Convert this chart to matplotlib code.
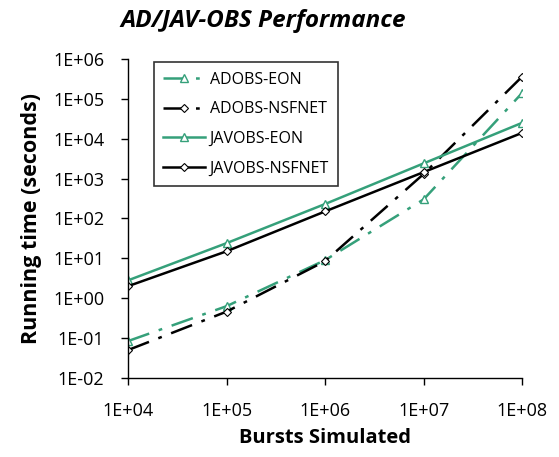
import numpy as np
import matplotlib
matplotlib.use("Agg")
import matplotlib.pyplot as plt
from matplotlib.ticker import FixedLocator, NullLocator

plt.rcParams['font.family'] = ['Open Sans', 'DejaVu Sans']

bursts = [1e4, 1e5, 1e6, 1e7, 1e8]
tick_labels_x = ["1E+04", "1E+05", "1E+06", "1E+07", "1E+08"]
y_ticks = [1e-2, 1e-1, 1e0, 1e1, 1e2, 1e3, 1e4, 1e5, 1e6]
tick_labels_y = ["1E-02", "1E-01", "1E+00", "1E+01", "1E+02", "1E+03", "1E+04", "1E+05", "1E+06"]

adobs_eon = [0.084, 0.63, 9.0, 300, 140000]
adobs_nsfnet = [0.05, 0.46, 8.5, 1300, 360000]
javobs_eon = [2.8, 24, 230, 2400, 25000]
javobs_nsfnet = [2.0, 15, 150, 1450, 14000]

green = "#35a07a"

fig = plt.figure(figsize=(5.59, 4.57), dpi=100)
ax = fig.add_axes([0.229, 0.173, 0.705, 0.698])

dashdot = (0, (9, 4, 1.5, 4))
ax.plot(bursts, adobs_eon, color=green, lw=1.8, ls=dashdot, marker="^", ms=6,
        mfc="white", mec=green, mew=1, label="ADOBS-EON")
ax.plot(bursts, adobs_nsfnet, color="black", lw=1.8, ls=dashdot, marker="D", ms=4,
        mfc="white", mec="black", mew=0.8, label="ADOBS-NSFNET")
ax.plot(bursts, javobs_eon, color=green, lw=1.8, marker="^", ms=6,
        mfc="white", mec=green, mew=1, label="JAVOBS-EON")
ax.plot(bursts, javobs_nsfnet, color="black", lw=1.8, marker="D", ms=4,
        mfc="white", mec="black", mew=0.8, label="JAVOBS-NSFNET")

ax.set_xscale("log")
ax.set_yscale("log")
ax.set_xlim(1e4, 1e8)
ax.set_ylim(1e-2, 1e6)
ax.xaxis.set_major_locator(FixedLocator(bursts))
ax.xaxis.set_minor_locator(NullLocator())
ax.yaxis.set_major_locator(FixedLocator(y_ticks))
ax.yaxis.set_minor_locator(NullLocator())
ax.set_xticklabels(tick_labels_x)
ax.set_yticklabels(tick_labels_y)
ax.tick_params(labelsize=13, length=5, width=1, pad=6)
ax.tick_params(axis="y", pad=12)
ax.tick_params(axis="x", pad=12)

for s in ["top", "right"]:
    ax.spines[s].set_visible(False)
for s in ["left", "bottom"]:
    ax.spines[s].set_linewidth(1)

ax.set_xlabel("Bursts Simulated", fontsize=14.5, fontweight="bold", labelpad=6)
ax.set_ylabel("Running time (seconds)", fontsize=15.5, fontweight="bold", labelpad=8)
fig.text(0.47, 0.955, "AD/JAV-OBS Performance", fontsize=17.5, fontweight="bold",
         fontstyle="italic", ha="center", va="center")

leg = ax.legend(loc="upper left", bbox_to_anchor=(0.045, 1.015), fontsize=11.5,
                frameon=True, fancybox=False, edgecolor="black",
                handlelength=2.6, labelspacing=0.85, borderpad=0.6, handletextpad=0.3)
leg.get_frame().set_linewidth(1.2)

fig.savefig("out.png", dpi=100)
